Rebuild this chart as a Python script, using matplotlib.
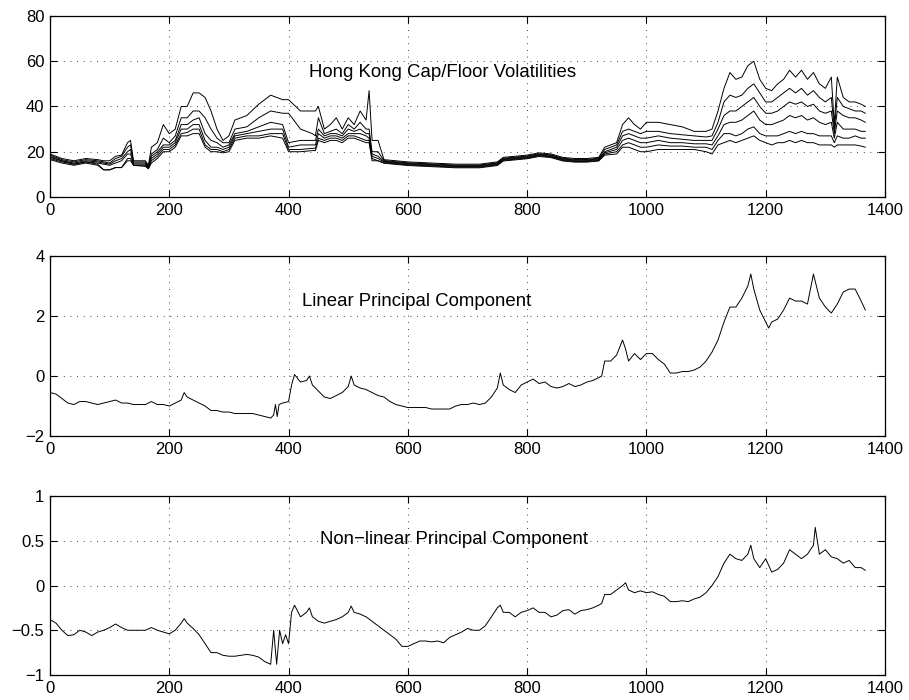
import matplotlib
matplotlib.use("Agg")
import matplotlib.pyplot as plt
import numpy as np

plt.rcParams['font.family'] = ['Liberation Sans', 'DejaVu Sans']
plt.rcParams['font.size'] = 12

# ---- top panel: cap/floor volatilities (six maturities)
x_vol = [0, 20, 40, 60, 80, 90, 100, 110, 120, 130, 135, 140, 160, 165, 170,
         180, 190, 200, 210, 220, 230, 240, 250, 260, 270, 280, 290, 300, 310,
         330, 350, 370, 390, 400, 420, 440, 445, 450, 460, 470, 480, 490, 500,
         510, 520, 530, 535, 540, 550, 560, 580, 600, 640, 680, 720, 750, 760,
         780, 800, 820, 840, 860, 880, 900, 920, 930, 950, 960, 970, 980, 990,
         1000, 1020, 1040, 1060, 1080, 1100, 1110, 1120, 1130, 1140, 1150, 1160,
         1170, 1180, 1190, 1200, 1210, 1220, 1230, 1240, 1250, 1260, 1270, 1280,
         1290, 1300, 1310, 1315, 1320, 1330, 1340, 1350, 1360, 1367]

vol1 = [19, 17, 16, 17, 16.5, 16, 16, 18, 18.5, 24, 25, 16, 16, 14, 22,
        24, 32, 28, 30, 40, 40, 46, 46, 44, 38, 30, 25, 27, 34,
        36, 41, 45, 43, 43, 38, 38, 38, 40, 30, 32, 35, 30, 35,
        32, 38, 34, 47, 25, 25, 16.5, 16, 15.5, 15, 14.5, 14.5, 15.5, 17.5,
        18, 18.5, 19.5, 19, 17.5, 17, 17, 17.5, 22, 24, 32, 35, 32, 30,
        33, 33, 32, 31, 29, 29, 30, 38, 48, 55, 52, 53,
        58, 60, 52, 48, 47, 50, 52, 56, 53, 56, 52, 55,
        50, 48, 53, 32, 53, 44, 42, 42, 41, 40]
vol2 = [18.5, 16.5, 15.5, 16.5, 16, 15.5, 15, 17, 18, 22, 23, 15.5, 15.5, 13.5, 19,
        21, 26, 24, 27, 35, 35, 38, 38, 35, 30, 26, 24, 24, 30,
        31, 35, 38, 37, 37, 30, 28, 27, 35, 28, 29, 30, 28, 32,
        30, 33, 30, 30, 20, 20, 16.1, 15.6, 15.1, 14.6, 14.1, 14.1, 15.1, 17.1,
        17.6, 18.1, 19.1, 18.6, 17.1, 16.6, 16.6, 17.1, 21, 23, 29, 30, 29, 28,
        29, 29, 28, 27.5, 27, 26.5, 27, 33, 42, 45, 44, 45,
        48, 50, 46, 42, 42, 44, 46, 48, 46, 48, 45, 47,
        44, 42, 44, 30, 44, 40, 39, 38, 38, 37]
vol3 = [18, 16, 15, 16, 15.5, 15, 14.5, 16, 17, 20, 21, 15, 15, 13, 18,
        20, 23, 23, 25, 32, 32, 34, 35, 28, 25, 24, 22, 23, 28,
        29, 31, 33, 32, 24, 25, 25, 25, 30, 27, 28, 28, 27, 30,
        29, 30, 28, 28, 19, 18, 15.8, 15.3, 14.8, 14.3, 13.8, 13.8, 14.8, 16.8,
        17.3, 17.8, 18.8, 18.3, 16.8, 16.3, 16.3, 16.8, 20, 22, 27, 28, 27, 26,
        26, 27, 26, 25.5, 25, 25, 25, 30, 36, 38, 38, 40,
        42, 44, 40, 37, 37, 38, 40, 42, 41, 42, 40, 41,
        38, 37, 38, 28, 38, 36, 35, 35, 34, 33]
vol4 = [17.5, 16, 14.5, 15.5, 15, 14.5, 14, 15, 16, 19, 19, 14.5, 14.5, 13, 17,
        19, 22, 22, 24, 30, 30, 32, 32, 25, 22, 22, 21, 22, 27,
        28, 29, 30, 30, 22, 23, 23, 23, 28, 26, 27, 27, 26, 28,
        28, 28, 27, 26, 18, 17, 15.5, 15, 14.5, 14, 13.5, 13.5, 14.5, 16.5,
        17, 17.5, 18.5, 18, 16.5, 16, 16, 16.5, 19.5, 21, 25, 26, 25, 24,
        24, 25, 24, 24, 23.5, 23.5, 23, 27, 32, 33, 33, 34,
        36, 38, 34, 32, 32, 33, 34, 36, 35, 36, 34, 35,
        33, 32, 33, 26, 33, 30, 30, 30, 29, 29]
vol5 = [17, 15.5, 14.5, 15.5, 14.5, 12, 12, 13, 13, 17, 17, 14, 14, 12.5, 16,
        18, 21, 21, 23, 28, 28.5, 30, 30, 23, 21, 21, 20, 21, 26,
        27, 27, 28, 28, 21, 21, 21.5, 21.5, 26, 25, 26, 26, 25, 27,
        27, 26, 25, 25, 17, 16, 15.2, 14.7, 14.2, 13.7, 13.2, 13.2, 14.2, 16.2,
        16.7, 17.2, 18.2, 17.7, 16.2, 15.7, 15.7, 16.2, 19, 20, 23, 24, 23, 22,
        22, 23, 22.5, 22.5, 22, 22, 21, 25, 28, 28, 27, 28,
        30, 31, 28, 27, 27, 27, 28, 29, 28, 29, 28, 28,
        27, 27, 27, 24, 27, 26, 26, 27, 26, 26]
vol6 = [16.5, 15, 14, 15, 14, 12, 12, 13, 13, 16, 16, 14, 13.5, 12.5, 15,
        17, 20, 20, 22, 27, 27, 28, 28, 22, 20, 20, 19.5, 20, 25,
        26, 26, 27, 26, 20, 20, 20.5, 20.5, 25, 24, 25, 25, 24, 26,
        26, 25, 24, 24, 16, 16, 14.9, 14.4, 13.9, 13.4, 12.9, 12.9, 13.9, 15.9,
        16.4, 16.9, 17.9, 17.4, 15.9, 15.4, 15.4, 15.9, 18.5, 19, 22, 22, 21, 20,
        20, 21, 21, 21, 21, 20, 19, 23, 24, 25, 24, 25,
        26, 27, 25, 24, 23, 24, 24, 25, 24, 25, 24, 24,
        23, 23, 23, 22, 23, 23, 23, 23, 22.5, 22]

# ---- middle panel: linear principal component
x_lin = [0, 10, 20, 30, 40, 50, 60, 70, 80, 90, 100, 110, 120, 130, 140, 150,
         160, 170, 180, 190, 200, 210, 220, 225, 230, 240, 250, 260, 270, 280,
         290, 300, 310, 320, 330, 340, 350, 360, 370, 375, 378, 381, 384, 390,
         400, 405, 410, 420, 430, 435, 440, 450, 460, 470, 480, 490, 500, 505,
         510, 520, 530, 540, 550, 560, 570, 580, 590, 600, 610, 620, 630, 640,
         650, 660, 670, 680, 690, 700, 710, 720, 730, 740, 750, 755, 760, 770,
         780, 790, 800, 810, 820, 830, 840, 850, 860, 870, 880, 890, 900, 910,
         920, 925, 930, 940, 950, 960, 965, 970, 980, 990, 1000, 1010, 1020,
         1030, 1040, 1050, 1060, 1070, 1080, 1090, 1100, 1110, 1120, 1130, 1140,
         1150, 1160, 1170, 1175, 1180, 1190, 1200, 1205, 1210, 1220, 1230, 1240,
         1250, 1260, 1270, 1280, 1290, 1300, 1310, 1320, 1330, 1340, 1350, 1360,
         1367]
pc_lin = [-0.55, -0.6, -0.75, -0.9, -0.95, -0.85, -0.85, -0.9, -0.95, -0.9,
          -0.85, -0.8, -0.9, -0.9, -0.95, -0.95, -0.95, -0.85, -0.95, -0.95,
          -1.0, -0.9, -0.8, -0.55, -0.7, -0.8, -0.9, -1.0, -1.15, -1.15,
          -1.2, -1.2, -1.25, -1.25, -1.25, -1.25, -1.3, -1.35, -1.4, -1.3,
          -0.95, -1.35, -0.95, -0.9, -0.85, -0.3, 0.05, -0.2, -0.15, 0.0,
          -0.3, -0.5, -0.7, -0.75, -0.65, -0.55, -0.35, 0.0, -0.3, -0.4,
          -0.45, -0.55, -0.65, -0.7, -0.85, -0.95, -1.0, -1.05, -1.05, -1.05,
          -1.05, -1.1, -1.1, -1.1, -1.1, -1.0, -0.95, -0.95, -0.9, -0.95,
          -0.9, -0.7, -0.4, 0.1, -0.3, -0.45, -0.55, -0.3, -0.2, -0.1,
          -0.25, -0.2, -0.35, -0.4, -0.35, -0.25, -0.35, -0.3, -0.2, -0.15,
          -0.05, 0.0, 0.5, 0.5, 0.7, 1.2, 0.9, 0.5, 0.75, 0.55, 0.75, 0.75,
          0.55, 0.4, 0.1, 0.1, 0.15, 0.15, 0.2, 0.3, 0.5, 0.8, 1.2, 1.8,
          2.3, 2.3, 2.6, 3.0, 3.4, 2.9, 2.2, 1.8, 1.6, 1.8, 1.9, 2.2, 2.6,
          2.5, 2.5, 2.4, 3.4, 2.6, 2.3, 2.1, 2.4, 2.8, 2.9, 2.9, 2.5, 2.2]

# ---- bottom panel: non-linear principal component
x_nl = [0, 10, 20, 30, 40, 50, 60, 70, 80, 90, 100, 110, 120, 130, 140, 150,
        160, 170, 180, 190, 200, 210, 220, 225, 230, 240, 250, 260, 270, 280,
        290, 300, 310, 320, 330, 340, 350, 360, 370, 375, 380, 385, 390, 395,
        400, 405, 410, 420, 430, 435, 440, 450, 460, 470, 480, 490, 500, 505,
        510, 520, 530, 540, 550, 560, 570, 580, 590, 600, 610, 620, 630, 640,
        650, 660, 670, 680, 690, 700, 710, 720, 730, 740, 750, 755, 760, 770,
        780, 790, 800, 810, 820, 830, 840, 850, 860, 870, 880, 890, 900, 910,
        920, 925, 930, 940, 950, 960, 965, 970, 980, 990, 1000, 1010, 1020,
        1030, 1040, 1050, 1060, 1070, 1080, 1090, 1100, 1110, 1120, 1130, 1140,
        1150, 1160, 1170, 1175, 1180, 1190, 1200, 1210, 1220, 1230, 1240, 1250,
        1260, 1270, 1280, 1283, 1290, 1300, 1310, 1320, 1330, 1340, 1350, 1360,
        1367]
pc_nl = [-0.38, -0.42, -0.5, -0.56, -0.55, -0.5, -0.52, -0.56, -0.52, -0.5,
         -0.47, -0.43, -0.47, -0.5, -0.5, -0.5, -0.5, -0.47, -0.5, -0.52,
         -0.54, -0.5, -0.42, -0.37, -0.42, -0.48, -0.55, -0.65, -0.75, -0.75,
         -0.78, -0.79, -0.79, -0.78, -0.77, -0.78, -0.8, -0.85, -0.88, -0.5,
         -0.88, -0.5, -0.65, -0.55, -0.65, -0.3, -0.22, -0.35, -0.3, -0.25,
         -0.35, -0.4, -0.42, -0.4, -0.38, -0.35, -0.3, -0.23, -0.3, -0.32,
         -0.35, -0.4, -0.45, -0.5, -0.55, -0.6, -0.68, -0.68, -0.65, -0.62,
         -0.62, -0.63, -0.62, -0.64, -0.58, -0.55, -0.52, -0.48, -0.5, -0.5,
         -0.45, -0.35, -0.25, -0.22, -0.3, -0.3, -0.35, -0.3, -0.28, -0.25,
         -0.3, -0.3, -0.35, -0.33, -0.28, -0.27, -0.32, -0.28, -0.27, -0.25,
         -0.22, -0.2, -0.1, -0.1, -0.05, 0.0, 0.03, -0.05, -0.08, -0.06,
         -0.08, -0.07, -0.1, -0.12, -0.18, -0.18, -0.17, -0.18, -0.15, -0.13,
         -0.08, 0.0, 0.1, 0.25, 0.35, 0.3, 0.28, 0.35, 0.45, 0.3, 0.2, 0.3,
         0.15, 0.18, 0.25, 0.4, 0.35, 0.3, 0.35, 0.45, 0.65, 0.35, 0.4, 0.32,
         0.3, 0.25, 0.28, 0.2, 0.2, 0.17]

titles = ["Hong Kong Cap/Floor Volatilities", "Linear Principal Component",
          "Non\u2212linear Principal Component"]


def matlab_axes(ax, ylim, yticks):
    ax.set_xlim(0, 1400)
    ax.set_ylim(*ylim)
    ax.set_xticks(np.arange(0, 1401, 200))
    ax.set_yticks(yticks)
    ax.grid(True, color='black', linestyle=(0, (1, 7)), linewidth=0.6)
    ax.tick_params(direction='in', length=5, width=0.8, top=True, right=True,
                   labelsize=12, pad=4)
    for s in ax.spines.values():
        s.set_linewidth(0.9)


fig = plt.figure(figsize=(9.09, 7.0), dpi=100)
ax1 = fig.add_axes([0.055, 0.7186, 0.9186, 0.2586])
ax2 = fig.add_axes([0.055, 0.3771, 0.9186, 0.2571])
ax3 = fig.add_axes([0.055, 0.0357, 0.9186, 0.2557])

for v in (vol1, vol2, vol3, vol4, vol5, vol6):
    ax1.plot(x_vol, v, color='black', linewidth=0.7)
matlab_axes(ax1, (0, 80), [0, 20, 40, 60, 80])
ax1.text(434, 55.2, titles[0], ha='left', va='center', fontsize=13.4)

ax2.plot(x_lin, pc_lin, color='black', linewidth=0.7)
matlab_axes(ax2, (-2, 4), [-2, 0, 2, 4])
ax2.text(423, 2.47, titles[1], ha='left', va='center', fontsize=13.4)

ax3.plot(x_nl, pc_nl, color='black', linewidth=0.7)
matlab_axes(ax3, (-1, 1), [-1, -0.5, 0, 0.5, 1])
ax3.set_yticklabels(['\u22121', '\u22120.5', '0', '0.5', '1'])
ax3.text(453, 0.51, titles[2], ha='left', va='center', fontsize=13.4)

fig.savefig("out.png", dpi=100)
